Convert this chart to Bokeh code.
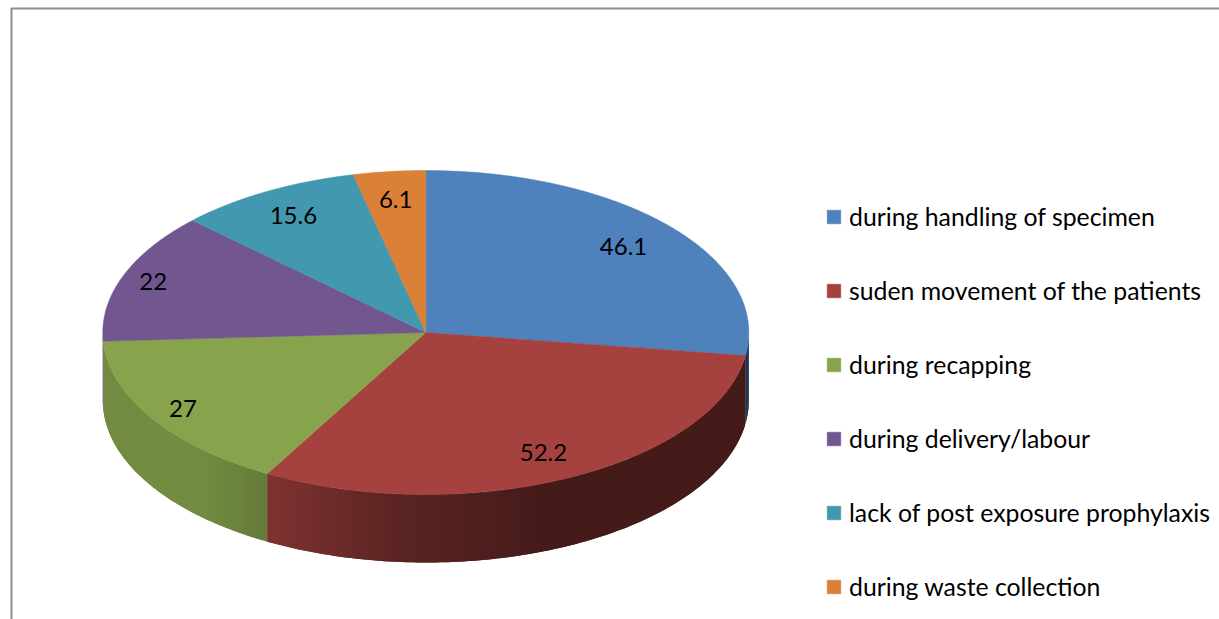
import numpy as np
from bokeh.plotting import figure
from bokeh.models import Range1d, Legend, LegendItem
from bokeh.core.properties import value
from bokeh.embed import file_html
from bokeh.resources import INLINE

categories = ["during handling of specimen", "suden movement of the patients", "during recapping",
              "during delivery/labour", "lack of post exposure prophylaxis", "during waste collection"]
values = [46.1, 52.2, 27, 22, 15.6, 6.1]
value_labels = ["46.1", "52.2", "27", "22", "15.6", "6.1"]
colors = ["#4f81bd", "#a5423f", "#87a44d", "#725690", "#4198af", "#da8137"]

# layout and styling
CX, CY, RX, RY, DEPTH = 425.3, 332.0, 323.0, 162.0, 68.0
LABEL_R = [0.81, 0.825, 0.885, 0.90, 0.83, 0.825]
SHADE_X = [103, 200, 266, 267, 400, 540, 750]
SHADE_K = [0.85, 0.86, 0.75, 0.77, 0.55, 0.42, 0.42]
FONT = "Lato"
LEGEND_SIZE = "24.8px"
LABEL_SIZE = "24px"


def px(a):
    return CX + RX * np.sin(a)


def py(a):
    return CY - RY * np.cos(a)


def shade(col, k):
    r, g, b = (int(col[i:i + 2], 16) for i in (1, 3, 5))
    return "#%02x%02x%02x" % (int(r * k), int(g * k), int(b * k))


p = figure(width=1219, height=619, output_backend="svg", toolbar_location=None,
           x_range=Range1d(0, 1219), y_range=Range1d(619, 0),
           x_axis_type=None, y_axis_type=None, min_border=0, outline_line_color=None)
p.grid.visible = False
p.background_fill_color = "#ffffff"

# chart frame (open at right and bottom)
p.line([11, 11, 1219], [619, 8, 8], line_color="#8c8c8c", line_width=2)

edges = np.radians(np.concatenate([[0], np.cumsum(values)]) / sum(values) * 360.0)

# visible side wall
for i, col in enumerate(colors):
    a0, a1 = max(edges[i], np.pi / 2), min(edges[i + 1], 3 * np.pi / 2)
    if a1 <= a0:
        continue
    n = max(3, int(np.degrees(a1 - a0) / 1.0) + 1)
    t = np.linspace(a0, a1, n)
    xs, ys, fc = [], [], []
    for j in range(n - 1):
        s = t[j:j + 3]  # each strip runs under the next one, so no seams show
        xs.append(np.r_[px(s), px(s[::-1])])
        ys.append(np.r_[py(s), py(s[::-1]) + DEPTH])
        k = np.interp(0.5 * (px(t[j]) + px(t[j + 1])), SHADE_X, SHADE_K)
        fc.append(shade(col, k))
    p.patches(xs, ys, fill_color=fc, line_color=None)

# top faces
tops = []
for i, col in enumerate(colors):
    t = np.linspace(edges[i], edges[i + 1], max(3, int(np.degrees(edges[i + 1] - edges[i]) * 2)))
    r = p.patch(np.r_[CX, px(t)], np.r_[CY, py(t)], fill_color=col, line_color=col, line_width=0.5)
    tops.append(r)

# value labels
mid = 0.5 * (edges[:-1] + edges[1:])
lab_x = CX + np.array(LABEL_R) * RX * np.sin(mid)
lab_y = CY - np.array(LABEL_R) * RY * np.cos(mid)
p.text(lab_x, lab_y, text=value_labels, text_align="center", text_baseline="middle",
       text_font=value(FONT), text_font_size=value(LABEL_SIZE), text_color="#000000")

legend = Legend(items=[LegendItem(label=c, renderers=[r]) for c, r in zip(categories, tops)],
                location=(825, 18), orientation="vertical",
                glyph_width=17, glyph_height=17, label_standoff=7, spacing=45,
                padding=0, margin=0, border_line_color=None, background_fill_alpha=0,
                label_text_font=FONT, label_text_font_size=LEGEND_SIZE, label_text_color="#000000")
p.add_layout(legend)

open("out.html", "w").write(file_html(p, INLINE))
